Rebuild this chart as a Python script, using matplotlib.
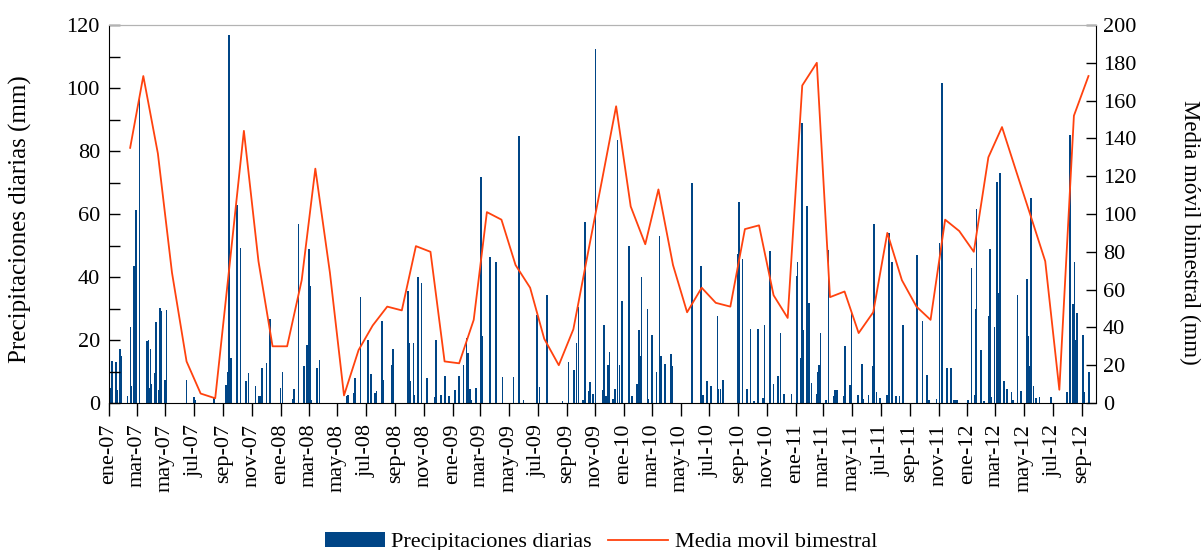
import matplotlib
matplotlib.use('Agg')
import matplotlib.pyplot as plt
import matplotlib.dates as mdates
from matplotlib.ticker import MultipleLocator, FuncFormatter
import pandas as pd

plt.rcParams['font.family'] = ['Liberation Serif', 'DejaVu Serif']

# Precipitación diaria: días contados desde el 01-01-2007 y lluvia (mm)
dias = [0, 3, 7, 15, 18, 23, 26, 39, 46, 48, 53, 54, 57, 65, 81, 84, 86, 88, 90, 97,
        100, 105, 108, 111, 119, 122, 165, 181, 183, 223, 249, 252, 255, 257, 259, 273, 280, 291, 297,
        312, 319, 321, 325, 335, 342, 365, 369, 391, 393, 403, 415, 421, 425, 427, 429, 431, 443, 448,
        506, 509, 520, 524, 535, 551, 558, 566, 569, 581, 583,
        602, 604, 636, 639, 641, 648, 650, 658, 665, 677, 694, 696, 707, 715, 723, 736, 744, 754, 761,
        764, 768, 771, 781, 792, 794, 810, 824, 837, 861, 873, 882,
        910, 916, 932, 965, 978, 988, 990, 995, 999, 1008, 1013, 1020, 1023, 1030, 1035, 1051, 1053,
        1058, 1062, 1065, 1072, 1076, 1082, 1086, 1092, 1107, 1113, 1124, 1128, 1130, 1133, 1146, 1148,
        1156, 1165, 1171, 1174, 1183, 1196, 1199,
        1241, 1260, 1264, 1273, 1280, 1282, 1295, 1297, 1301, 1306, 1337, 1341, 1348, 1358, 1365, 1373,
        1381, 1392, 1395, 1406, 1414, 1424, 1429, 1436, 1452, 1463, 1465, 1473, 1475, 1478, 1485, 1490, 1495,
        1505, 1508, 1510, 1514, 1525, 1531, 1542, 1544, 1549, 1563, 1566, 1577, 1580, 1593, 1602, 1605,
        1616, 1625, 1628, 1633, 1640, 1655, 1659, 1666, 1675, 1682, 1689, 1719, 1731, 1740, 1744, 1761,
        1767, 1772, 1783, 1792, 1798, 1800, 1804,
        1827, 1835, 1842, 1844, 1846, 1855, 1862, 1872, 1874, 1878, 1884, 1889, 1893, 1896, 1904, 1910,
        1920, 1924, 1933, 1941, 1953, 1956, 1960, 1962, 1967, 1972, 1980, 2004, 2038, 2044, 2045, 2051,
        2054, 2056, 2060, 2072, 2073, 2075, 2085]
lluvia = [16.9, 4.8, 13.2, 13.0, 4.2, 17.1, 14.8, 2.1, 24.1, 5.3, 43.6, 31.2, 61.3, 96.8, 19.6, 20.1, 4.8, 17.1, 6.1, 9.5,
          25.6, 4.2, 30.1, 29.1, 7.4, 29.6, 7.4, 1.9, 1.0, 1.9, 5.8, 9.7, 116.8, 3.7, 14.3, 62.9, 49.2, 6.9, 9.5,
          5.3, 2.3, 2.3, 11.1, 12.7, 26.8, 4.8, 9.8, 1.3, 4.4, 56.9, 11.8, 18.5, 49.0, 37.0, 9.5, 1.0, 11.1, 13.5,
          2.3, 2.6, 3.2, 7.9, 33.6, 20.1, 9.3, 3.2, 3.7, 25.9, 7.4,
          12.2, 17.2, 35.4, 19.0, 6.9, 19.0, 2.6, 39.9, 38.1, 7.9, 1.9, 19.9, 2.6, 8.5, 2.1, 4.0, 8.5, 12.2, 20.6,
          15.9, 4.4, 1.0, 4.8, 71.6, 21.4, 46.5, 44.7, 8.2, 8.2, 84.8, 1.0,
          28.0, 5.1, 34.4, 0.7, 12.9, 5.1, 10.6, 19.2, 30.5, 1.0, 57.6, 3.7, 6.6, 2.9, 112.4, 4.0, 24.8,
          2.1, 12.2, 16.1, 1.3, 4.4, 83.5, 12.2, 32.3, 50.0, 2.3, 6.0, 23.3, 15.0, 40.0, 29.8, 1.3,
          21.7, 9.7, 53.1, 15.0, 12.5, 15.5, 11.6,
          69.8, 43.6, 2.6, 6.9, 5.3, 5.3, 27.7, 4.4, 4.4, 7.4, 47.3, 63.7, 45.7, 4.4, 23.6, 0.7,
          23.6, 1.6, 24.8, 48.1, 6.1, 8.7, 22.2, 2.9, 3.0, 40.4, 44.9, 14.3, 89.0, 23.1, 62.6, 31.9, 6.3,
          3.0, 10.0, 12.2, 22.2, 1.0, 48.6, 2.3, 4.2, 4.2, 2.3, 18.2, 5.8, 28.8, 2.6, 12.5, 1.3,
          2.6, 11.6, 56.9, 3.4, 1.6, 2.6, 54.1, 44.9, 2.1, 2.1, 24.8, 47.1, 25.9, 9.0, 1.0, 1.3,
          50.8, 101.5, 11.1, 11.1, 1.0, 1.0, 1.0,
          1.0, 42.7, 2.6, 29.8, 61.5, 16.9, 0.7, 27.7, 49.0, 1.9, 24.0, 70.1, 34.9, 73.0, 7.1, 4.4,
          3.4, 1.0, 34.4, 3.7, 39.3, 21.4, 11.8, 65.0, 5.5, 1.6, 1.9, 1.9, 3.4, 20.6, 85.1, 31.5,
          44.7, 20.1, 28.6, 21.7, 7.1, 3.4, 10.0]

# Media móvil bimestral, un valor por mes (feb-2007 a sep-2012)
media = [135, 173, 132, 69, 22, 5, 2.5, 74, 144, 75, 30,
         30, 65, 124, 69, 4, 28, 41, 51, 49, 83, 80, 22,
         21, 44, 101, 97, 73, 61, 34, 20, 39, 78, 118, 157,
         104, 84, 113, 73, 48, 61, 53, 51, 92, 94, 57, 45,
         168, 180, 56, 59, 37, 48, 90, 65, 51, 44, 97, 91,
         80, 130, 146, 122, 99, 75, 7, 152, 173]

meses_abr = ['ene', 'feb', 'mar', 'abr', 'may', 'jun', 'jul', 'ago', 'sep', 'oct', 'nov', 'dic']

inicio = pd.Timestamp('2007-01-01')
fechas = inicio + pd.to_timedelta(dias, unit='D')
meses = pd.date_range('2007-02-01', '2012-09-01', freq='MS') + pd.Timedelta(days=14)

fig = plt.figure(figsize=(12.02, 5.5), dpi=100)
ax = fig.add_axes([109 / 1202, 1 - 403 / 550, 987 / 1202, 378 / 550])
ax2 = ax.twinx()

barras = ax.bar(fechas, lluvia, width=3.5, color='#004586', linewidth=0,
                label='Precipitaciones diarias')
linea, = ax2.plot(meses, media, color='#ff420e', lw=1.3, label='Media movil bimestral')

ax.set_xlim(inicio, pd.Timestamp('2012-10-01'))
ax.set_ylim(0, 120)
ax2.set_ylim(0, 200)
ax.yaxis.set_major_locator(MultipleLocator(20))
ax.yaxis.set_minor_locator(MultipleLocator(10))
ax2.yaxis.set_major_locator(MultipleLocator(20))

ax.xaxis.set_major_locator(mdates.MonthLocator(bymonth=[1, 3, 5, 7, 9, 11]))
ax.xaxis.set_major_formatter(FuncFormatter(
    lambda v, pos: '%s-%s' % (meses_abr[mdates.num2date(v).month - 1], mdates.num2date(v).strftime('%y'))))

ax.tick_params(axis='y', which='both', direction='in', length=8, width=1, pad=6.5, labelsize=16)
ax.tick_params(axis='x', direction='out', length=9, width=1, pad=6, labelsize=16, labelrotation=90)
ax2.tick_params(axis='y', direction='in', length=7, width=1, pad=5, labelsize=16)

for a in (ax, ax2):
    a.spines['top'].set_color('#b3b3b3')
ax.spines['right'].set_visible(False)
ax2.spines['left'].set_visible(False)
ax2.spines['bottom'].set_visible(False)

fig.text(20 / 1202, 1 - 219 / 550, 'Precipitaciones diarias (mm)', rotation=90,
         ha='center', va='center', fontsize=18)
fig.text(1190 / 1202, 1 - 232 / 550, 'Media móvil bimestral (mm)', rotation=270,
         ha='center', va='center', fontsize=16.5)

fig.legend([barras, linea], ['Precipitaciones diarias', 'Media movil bimestral'],
           loc='center', bbox_to_anchor=(0.5, 1 - 542 / 550), ncol=2, frameon=False,
           fontsize=16, handlelength=2.7, handletextpad=0.3, columnspacing=0.75)

fig.savefig('out.png', dpi=100)
